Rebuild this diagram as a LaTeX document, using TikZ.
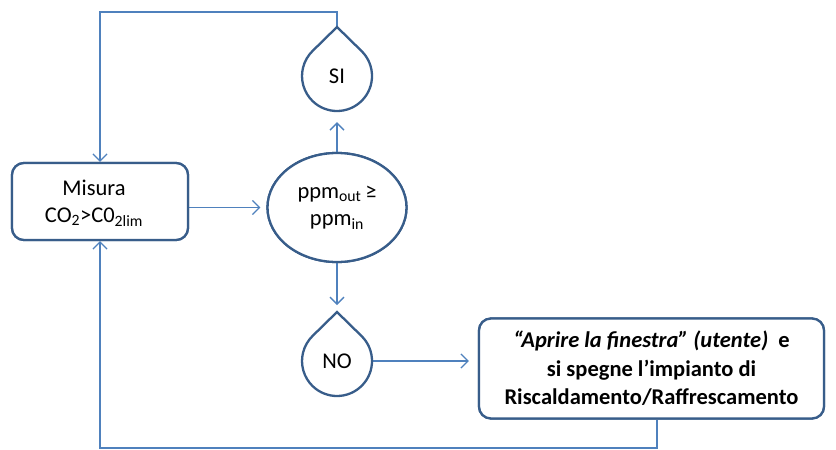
\documentclass[tikz,border=0pt]{standalone}
\usepackage{fontspec}
\setmainfont{Carlito}
\usetikzlibrary{arrows.meta,shapes.geometric}
\definecolor{shapeborder}{RGB}{56,93,138}
\definecolor{linkblue}{RGB}{79,129,189}
\begin{document}
\begin{tikzpicture}[x=1pt,y=-1pt,
  box/.style={draw=shapeborder,line width=2.3pt,rounded corners=12pt,fill=white,
    align=center,inner sep=0pt,font=\fontsize{22.5}{28}\selectfont},
  decision/.style={ellipse,draw=shapeborder,line width=2.3pt,fill=white,
    inner sep=0pt,align=center,font=\fontsize{22.5}{27}\selectfont},
  dropcore/.style={circle,minimum size=70pt,inner sep=0pt,font=\fontsize{22.5}{27}\selectfont},
  dropline/.style={draw=shapeborder,line width=2.3pt,fill=white},
  link/.style={draw=linkblue,line width=1.3pt},
  flow/.style={link,-{Straight Barb[length=7pt,width=14pt,line width=1.3pt]}}]
\useasboundingbox (0,0) rectangle (836,450);

% node placement (outlines are drawn after the connectors)
\node[box,minimum width=176pt,minimum height=77pt] (misura) at (100,201.5) {};
\node[decision,minimum width=139pt,minimum height=109pt] (cmp) at (337,207.5) {};
\node[dropcore] (si) at (337,76) {};
\node[dropcore] (no) at (337,361) {};
\coordinate (sitip) at ([yshift=49pt]si.center);
\coordinate (notip) at ([yshift=49pt]no.center);
\node[box,minimum width=345pt,minimum height=100pt] (act) at (651.5,368.5) {};
\coordinate (actout) at ([xshift=5.5pt]act.south);

% connectors
\draw[flow,shorten >=6pt] (misura.east |- cmp.west) -- (cmp.west);
\draw[flow,shorten >=11pt] (cmp.north) -- (si.south);
\draw[flow,shorten >=7pt] (cmp.south) -- (notip);
\draw[flow,shorten >=9pt] (no.east) -- (no.east -| act.west);
\coordinate (topleft) at (100,12);
\coordinate (topright) at (337,12);
\draw[flow] (sitip) -- (topright) -- (topleft) -- (misura.north);
\coordinate (botright) at (actout |- 0,448);
\coordinate (botleft) at (100,448);
\draw[flow] (actout) -- (botright) -- (botleft) -- (misura.south);

% outlines and texts
\node[box,minimum width=176pt,minimum height=77pt] at (misura) {};
\node[font=\fontsize{22.5}{27}\selectfont,align=center] (misuratxt) at (94,203)
  {Misura\\CO\textsubscript{2}>C0\textsubscript{2lim}};
\node[decision,minimum width=139pt,minimum height=109pt] at (cmp)
  {ppm\textsubscript{out}\,≥\\ppm\textsubscript{in}};
\foreach \d in {si,no}{
  \path[dropline] (\d.center) ++(0,-49) -- ++(24.5,24)
    arc[start angle=45.6,end angle=-225.6,radius=35pt] -- cycle;
}
\node[font=\fontsize{22.5}{27}\selectfont] (sitxt) at (si.center) {SI};
\node[font=\fontsize{22.5}{27}\selectfont] (notxt) at (no.center) {NO};
\node[box,minimum width=345pt,minimum height=100pt,font=\bfseries\fontsize{22.5}{28.5}\selectfont]
  (acttxt) at (act)
  {\textit{“Aprire la finestra” (utente)}\ \ e\\si spegne l’impianto di\\Riscaldamento/Raffrescamento};
\end{tikzpicture}
\end{document}
